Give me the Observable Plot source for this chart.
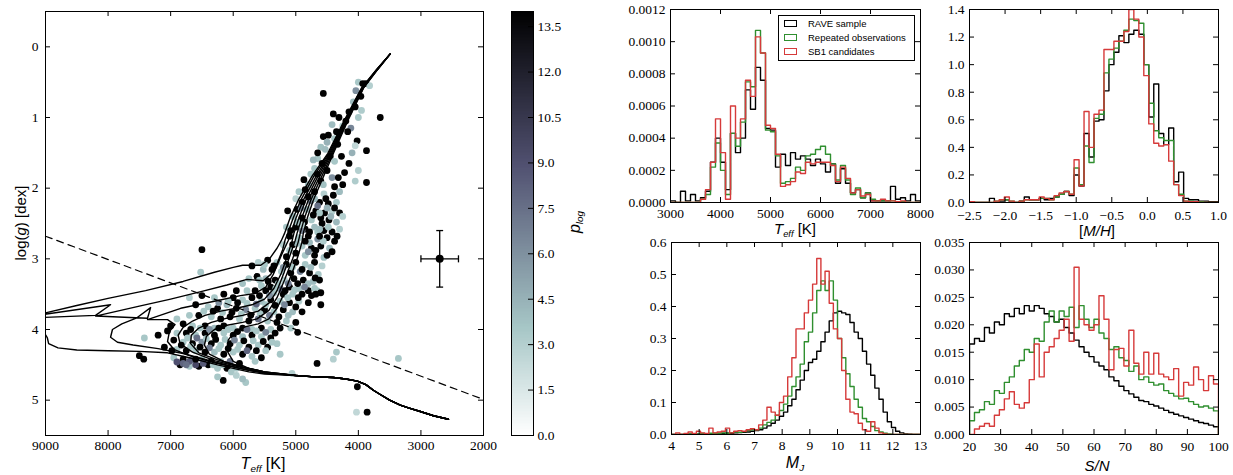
<!DOCTYPE html>
<html><head><meta charset="utf-8">
<script src="https://cdn.jsdelivr.net/npm/d3@7"></script>
<script src="https://cdn.jsdelivr.net/npm/@observablehq/plot@0.6"></script>
<style>
body{margin:0;background:#fff;}
#wrap{position:relative;width:1233px;height:475px;overflow:hidden;background:#fff;}
#wrap svg{position:absolute;max-width:none;overflow:visible;background:transparent !important;}
#wrap svg text{font-family:"Liberation Serif","DejaVu Serif","Noto Serif",serif !important;}
.lbl{position:absolute;white-space:nowrap;font-family:"Liberation Sans",Arial,sans-serif;font-size:15px;color:#000;line-height:1;transform:translate(-50%,-50%);}
.rot{transform:translate(-50%,-50%) rotate(-90deg);}
.lbl sub{font-size:0.62em;vertical-align:-0.35em;}
#legend{position:absolute;left:778px;top:15px;width:135px;height:44px;border:1px solid #000;background:#fff;font-family:"Liberation Sans",Arial,sans-serif;font-size:9.5px;}
.lr{position:absolute;left:5px;height:12px;line-height:12px;white-space:nowrap;}
.sw{display:inline-block;width:11px;height:5px;border:1.4px solid;margin-right:11px;vertical-align:middle;position:relative;top:-1px;}
</style></head>
<body>
<div id="wrap">
</div>
<script>
// ---------------- DATA ----------------
// Left panel: stars [Teff, logg, p_log]
const stars = [
[4000,0.5,3.5],[3930,0.52,13.9],[3880,0.52,13.9],[3820,0.55,3],[4040,0.62,6],[3960,0.7,13.9],[4080,0.78,4],[4050,0.85,13.9],[3950,0.9,3.2],[4150,0.92,13.9],[4000,1.0,3.5],[3650,1.0,13.9],[4560,0.66,13.9],[4200,1.05,13.9],[4400,0.95,13.9],[4310,1.0,13.9],[4250,1.12,3],[4120,1.15,6.5],[4480,1.25,13.9],[4560,1.27,13.9],[4380,1.3,3.5],[4170,1.2,13.9],[4020,1.33,13.9],[4050,1.4,2.5],[4330,1.38,13.9],[4600,1.42,3.8],[4530,1.45,4],[3870,1.47,13.9],[4100,1.5,4.5],[4270,1.55,13.9],[4450,1.55,13.9],[4650,1.58,3.5],[4580,1.65,13.9],[4720,1.6,4.2],[4380,1.62,3.5],[4150,1.65,13.9],[4000,1.75,3],[4220,1.78,13.9],[4500,1.75,13.9],[4660,1.8,13.9],[4760,1.8,3.5],[4420,1.85,6],[4320,1.85,13.9],[4050,1.9,3.2],[3870,1.92,13.9],[4600,1.9,13.9],[4800,1.95,4],[4250,1.95,13.9],
[4950,2.05,3.5],[4850,2.02,13.9],[4700,2.05,13.9],[4550,2.08,3],[4400,2.1,13.9],[4300,2.05,4],[5000,2.15,2.8],[4900,2.2,13.9],[4760,2.18,6.5],[4620,2.2,13.9],[4480,2.22,13.9],[4350,2.2,3.5],[4980,2.3,13.9],[4820,2.3,4],[4680,2.32,13.9],[4540,2.35,13.9],[4420,2.33,3],[4300,2.35,13.9],[5050,2.4,3.8],[4900,2.42,13.9],[4750,2.45,3.5],[4600,2.42,13.9],[4470,2.45,13.9],[4350,2.48,4.2],[5130,2.32,13.9],[4650,2.25,7.5],[4500,2.28,4.5],[4800,2.12,13.9],[4250,2.4,3],[4580,2.5,13.9],
[5150,2.55,3.5],[5000,2.55,13.9],[4850,2.58,13.9],[4700,2.55,4],[4550,2.6,13.9],[4420,2.62,13.9],[4300,2.58,3],[5100,2.68,13.9],[4950,2.7,3.5],[4800,2.68,13.9],[4650,2.72,6],[4500,2.7,13.9],[4380,2.75,13.9],[5200,2.8,3],[5050,2.8,13.9],[4900,2.82,3.5],[4750,2.85,13.9],[4600,2.82,13.9],[4460,2.85,4],[5000,2.92,13.9],[4850,2.95,3.5],[4700,2.95,13.9],[4550,2.98,3.8],[4420,2.9,13.9],[5150,2.97,13.9],[4650,2.62,3.5],[4900,2.6,6.5],[4780,2.77,4.2],[4340,2.68,13.9],[6500,2.87,13.9],
[5600,3.05,3],[5450,3.02,13.9],[5300,3.05,3.5],[5150,3.08,13.9],[5000,3.05,13.9],[4850,3.08,3.5],[4700,3.05,13.9],[4580,3.1,3],[5700,3.1,13.9],[5520,3.15,4],[5380,3.15,13.9],[5230,3.18,3.5],[5080,3.2,13.9],[4930,3.18,6.5],[4780,3.2,13.9],[4640,3.22,3.5],[6520,3.19,3.5],[5620,3.25,13.9],[5480,3.28,4.2],[5330,3.3,13.9],[5180,3.3,3],[5030,3.28,13.9],[4880,3.3,13.9],[4720,3.32,4],[5550,3.38,3.5],[5400,3.4,13.9],[5250,3.42,8],[5100,3.4,13.9],[4950,3.42,3.5],[4800,3.45,13.9],[4660,3.45,3.5],[5650,3.45,13.9],[5350,3.48,4],[5200,3.5,13.9],[5050,3.5,3.5],[4900,3.5,13.9],[4750,3.52,13.9],[5850,3.35,3.8],[5950,3.45,13.9],[4690,3.27,13.9],
[6700,3.55,3],[6500,3.52,13.9],[6300,3.55,3.5],[6150,3.5,13.9],[6000,3.55,13.9],[5850,3.58,3.5],[5700,3.55,13.9],[5550,3.6,4],[5400,3.58,13.9],[5250,3.6,3.5],[5100,3.62,13.9],[4950,3.6,3],[4800,3.62,13.9],[6600,3.65,13.9],[6400,3.68,3.5],[6250,3.7,13.9],[6100,3.65,4.2],[5950,3.7,13.9],[5800,3.72,6.5],[5650,3.7,3.5],[5500,3.72,13.9],[5350,3.75,3.5],[5200,3.72,13.9],[5050,3.75,4],[4900,3.75,13.9],[6700,3.8,3.5],[6550,3.8,13.9],[6350,3.82,3.5],[6200,3.85,13.9],[6050,3.82,13.9],[5900,3.85,3.5],[5750,3.88,13.9],[5600,3.85,7.5],[5450,3.88,3.5],[5300,3.9,13.9],[5150,3.88,3.5],[5000,3.9,13.9],[6800,3.92,13.9],[6650,3.95,3.5],[6450,3.95,13.9],[6300,3.98,4],[6150,3.95,13.9],[6000,3.98,3.5],[5850,3.98,13.9],[5700,4.0,3.5],[5550,3.98,13.9],[5400,4.0,3.5],[5250,3.98,13.9],[7000,3.95,13.9],[6900,3.85,3.5],
[7050,4.02,13.9],[6900,4.05,3.5],[6750,4.05,13.9],[6600,4.08,3.5],[6450,4.05,13.9],[6300,4.08,13.9],[6150,4.05,3.5],[6000,4.08,13.9],[5850,4.1,4],[5700,4.08,13.9],[5550,4.1,3.5],[5400,4.12,13.9],[4970,4.04,13.9],[7200,4.08,13.9],[7420,4.12,3.5],[6950,4.15,13.9],[6800,4.18,3.5],[6650,4.2,13.9],[6500,4.18,6],[6350,4.2,13.9],[6200,4.22,3.5],[6050,4.2,13.9],[5900,4.22,3.5],[5750,4.25,13.9],[5600,4.22,3.5],[5450,4.25,13.9],[5300,4.2,3.5],[7100,4.25,13.9],[6900,4.28,3.5],[6750,4.3,13.9],[6600,4.3,3.5],[6450,4.32,13.9],[6300,4.32,4],[6150,4.35,13.9],[6000,4.32,3.5],[5850,4.35,13.9],[5700,4.38,3.5],[5550,4.4,13.9],[6950,4.4,3.5],[6800,4.42,13.9],[6650,4.43,6],[6500,4.42,3.5],[6350,4.45,13.9],[6200,4.45,3.5],[6050,4.45,7.5],[5900,4.48,13.9],[7430,4.42,13.9],[7500,4.37,13.9],[4660,4.48,13.9],[4350,4.32,3.5],
[6850,4.5,13.9],[6700,4.52,3.5],[6550,4.52,13.9],[6400,4.5,13.9],[6250,4.55,3.5],[6100,4.55,13.9],[5950,4.55,3.5],[6700,4.45,8.5],[6600,4.5,9.5],[6800,4.48,8],[6160,4.72,13.9],[6250,4.67,3.5],[5800,4.75,3.5],[5850,4.7,4],[4016,4.81,13.9],[3860,5.17,13.9],[4030,5.17,2.5],[3360,4.41,3.5],[4400,4.42,3],[5060,4.62,3],
[4420,1.1,4],[4350,1.2,13.9],[4500,1.35,4.5],[4650,1.5,13.9],[4700,1.72,3.5],[4560,1.95,3.8],[4380,1.98,13.9],[4870,1.88,13.9],[4700,2.15,4],[4520,2.15,13.9],[4920,2.28,6],[4380,2.28,13.9],[4620,2.35,3.5],[4860,2.48,13.9],[4720,2.38,13.9],[4440,2.4,4.5],[4980,2.48,3.8],[4620,2.58,4],[4780,2.62,13.9],[4480,2.55,3.5],[5080,2.6,13.9],[4560,2.75,3.2],[4850,2.75,13.9],[4980,2.78,4],[4680,2.88,13.9],[4800,2.9,6],[5100,2.88,3.5],[4500,2.95,13.9],[4620,2.68,13.9],[4900,2.52,3],
[4760,3.12,4],[4900,3.15,13.9],[5050,3.12,3.5],[5200,3.12,6],[5350,3.1,13.9],[5500,3.08,3.5],[4620,3.3,13.9],[4800,3.35,4],[4970,3.35,13.9],[5120,3.35,7],[5280,3.35,3.5],[5440,3.32,13.9],[5580,3.3,3.8],[5750,3.28,3.5],[4700,3.42,3.5],[4860,3.4,6.5],[5020,3.44,3.5],[5170,3.45,13.9],[5320,3.42,3.5],[5480,3.45,13.9],[5780,3.45,3.5],[4600,3.48,13.9],[5420,3.52,6],[5580,3.52,13.9],[5130,3.55,3.5],[4960,3.55,13.9],[4600,3.65,13.9],[4680,3.5,13.9],
[5180,3.65,6.5],[5330,3.66,13.9],[5480,3.65,3.5],[5630,3.64,8],[5780,3.63,3.5],[5930,3.62,13.9],[6080,3.6,3.5],[6230,3.62,6],[5000,3.68,13.9],[5120,3.8,4],[5270,3.82,13.9],[5420,3.8,7],[5570,3.78,3.5],[5720,3.8,13.9],[5870,3.78,3.5],[6020,3.76,13.9],[6170,3.76,3.5],[6320,3.74,13.9],[6470,3.74,3.5],[5080,3.98,3.5],[5330,4.05,13.9],[5480,4.04,6.5],[5630,4.02,3.5],[5780,4.0,7.5],[5930,4.03,13.9],[6080,4.0,3.5],[6230,3.98,13.9],[6380,4.0,6],[6530,3.98,3.5],[6680,4.0,13.9],[5380,4.18,3.5],[5520,4.17,13.9],[5680,4.16,3.5],[5830,4.16,13.9],[5980,4.15,6.5],[6130,4.14,3.5],[6280,4.14,13.9],[6430,4.13,3.5],[6580,4.12,7.5],[6730,4.12,3.5],[5480,4.3,3.5],[5630,4.3,13.9],[5780,4.3,8],[5930,4.28,3.5],[6080,4.27,13.9],[6230,4.27,3.5],[6380,4.26,7],[6530,4.25,13.9],[6680,4.24,3.5],[6830,4.22,13.9],[6980,4.3,13.9],[6480,4.48,8.5],[6600,4.42,13.9],[6900,4.46,9],[6750,4.5,7.5],[6320,4.5,3.5],[6170,4.5,3.5],[5650,4.45,3.5],[6030,4.6,3.5],[5950,4.65,3],[5250,4.35,3.5]
];

// Isochrones: shared cool main sequence, then hot part per isochrone, then red giant branch
const msLower = [[2560,5.27],[2800,5.22],[3010,5.16],[3200,5.11],[3330,5.07],[3500,5.0],[3650,4.92],[3760,4.86],[3880,4.78],[4016,4.73],[4200,4.70],[4400,4.68],[4700,4.67],[5000,4.65]];
const isoLower = [
 [[5500,4.63],[5750,4.6],[6250,4.5],[6700,4.4],[7050,4.33],[7500,4.31],[8000,4.3],[8500,4.29],[8800,4.26],[8950,4.2],[8970,4.12],[9050,4.0],[9250,3.9],[9050,3.79],[7960,3.65],[8200,3.80],[9050,3.83],[9300,3.84],[9300,3.79],[9000,3.765],[8500,3.66],[8000,3.56],[7400,3.45],[6800,3.32],[6300,3.19],[6000,3.12],[5850,3.09],[5560,3.09],[5420,3.0],[5300,2.85],[5230,2.74]],
 [[5500,4.62],[5800,4.57],[6300,4.46],[6800,4.34],[7200,4.27],[7600,4.22],[7850,4.18],[7960,4.11],[7930,4.0],[7780,3.92],[7550,3.84],[7320,3.69],[7370,3.84],[8200,3.81],[7500,3.67],[7000,3.57],[6500,3.46],[6100,3.37],[5780,3.29],[5520,3.31],[5400,3.22],[5290,3.05],[5210,2.87],[5170,2.73]],
 [[5500,4.61],[5900,4.55],[6300,4.47],[6700,4.37],[6950,4.28],[7050,4.17],[7020,4.03],[6930,3.93],[7050,3.86],[7370,3.86],[6840,3.70],[6300,3.6],[5885,3.52],[5650,3.49],[5480,3.4],[5360,3.22],[5230,2.95],[5120,2.74]],
 [[5500,4.6],[5900,4.53],[6300,4.44],[6650,4.32],[6850,4.2],[6880,4.08],[6800,3.97],[6650,3.88],[6450,3.8],[6200,3.74],[5950,3.7],[5700,3.65],[5500,3.57],[5350,3.42],[5230,3.2],[5130,2.95],[5060,2.75]],
 [[5500,4.6],[5900,4.52],[6250,4.43],[6550,4.33],[6680,4.2],[6670,4.08],[6550,3.98],[6350,3.9],[6100,3.84],[5850,3.8],[5600,3.74],[5420,3.62],[5300,3.45],[5190,3.2],[5080,2.92],[5010,2.74]],
 [[5500,4.6],[5850,4.53],[6150,4.45],[6380,4.35],[6460,4.22],[6430,4.1],[6300,4.0],[6100,3.94],[5850,3.9],[5620,3.85],[5430,3.73],[5300,3.55],[5180,3.3],[5050,3.0],[4960,2.76]],
 [[5400,4.62],[5750,4.55],[6000,4.45],[6100,4.3],[6080,4.15],[5980,4.03],[5800,3.96],[5600,3.92],[5430,3.85],[5300,3.7],[5180,3.48],[5060,3.2],[4960,2.95],[4900,2.76]]
];
const isoRGB = [
 [[5180,2.64],[5090,2.42],[4960,2.17],[4740,1.83],[4490,1.51],[4230,1.05],[3948,0.58],[3708,0.32],[3490,0.1]],
 [[5130,2.64],[5040,2.42],[4920,2.17],[4710,1.83],[4475,1.51],[4220,1.05],[3943,0.58],[3705,0.32],[3490,0.1]],
 [[5080,2.64],[4995,2.42],[4880,2.17],[4680,1.84],[4460,1.51],[4210,1.05],[3938,0.58],[3702,0.32],[3490,0.1]],
 [[5030,2.64],[4950,2.42],[4840,2.17],[4650,1.84],[4445,1.51],[4200,1.05],[3932,0.58],[3700,0.32],[3490,0.1]],
 [[4980,2.64],[4905,2.42],[4800,2.17],[4620,1.84],[4430,1.51],[4190,1.05],[3926,0.58],[3697,0.32],[3490,0.1]],
 [[4930,2.64],[4860,2.42],[4760,2.17],[4590,1.84],[4415,1.51],[4180,1.05],[3920,0.58],[3694,0.32],[3490,0.1]],
 [[4880,2.64],[4815,2.42],[4720,2.17],[4560,1.84],[4400,1.51],[4170,1.05],[3914,0.58],[3690,0.32],[3490,0.1]]
];
const cutLine = [[9000,2.68],[2000,4.99]];
const errBar = [{teff:2700, logg:3.0, dTeff:300, dLogg:0.4}];
const hrTeffTicks = [9000,8000,7000,6000,5000,4000,3000,2000];
const hrLoggTicks = [0,1,2,3,4,5];
const plogTicks = [0,1.5,3,4.5,6,7.5,9,10.5,12,13.5];

// Histograms
const seriesNames = ["RAVE sample","Repeated observations","SB1 candidates"];
const seriesColors = ["#000000","#2f8f2f","#d63a3a"];

const teffStart = 3000, teffWidth = 100;
const teffRave = [0.00001,0,0.00007,0.00001,0.00005,0.00001,0.00003,0.00007,0.00025,0.00040,0.00025,0.00008,0.00043,0.00031,0.00040,0.00070,0.00058,0.00084,0.00076,0.00046,0.00045,0.00022,0.00030,0.00023,0.00031,0.00027,0.00029,0.00027,0.00023,0.00027,0.00024,0.00019,0.00024,0.00012,0.00021,0.00012,0.00006,0.00008,0.00003,0.00006,0.00001,0.00001,0.00001,0.00001,0.00010,0.00002,0.00003,0.00001,0.00005,0.00001];
const teffRep = [0,0,0,0,0,0,0.00002,0.00005,0.00022,0.00037,0.00020,0.00005,0.00043,0.00035,0.00050,0.00075,0.00072,0.00107,0.00093,0.00045,0.00044,0.00029,0.00012,0.00013,0.00015,0.00022,0.00020,0.00029,0.00030,0.00033,0.00035,0.00030,0.00024,0.00014,0.00023,0.00014,0.00005,0.00009,0.00003,0.00006,0.00002,0.00001,0.00001,0.00001,0.00001,0.000005,0.000005,0,0,0];
const teffSB1 = [0,0,0,0,0,0,0.00002,0.00008,0.00025,0.00052,0.00031,0.00002,0.00060,0.00040,0.00052,0.00076,0.00066,0.00103,0.00093,0.00048,0.00046,0.00030,0.00010,0.00011,0.00013,0.00019,0.00018,0.00025,0.00024,0.00025,0.00025,0.00025,0.00023,0.00013,0.00022,0.00015,0.00006,0.00008,0.00004,0.00005,0.00001,0.00001,0.00002,0.00001,0.00001,0.000005,0.00001,0,0,0];
const teffTicks = [3000,4000,5000,6000,7000,8000];
const densTicks = [0,0.0002,0.0004,0.0006,0.0008,0.0010,0.0012];

const mhStart = -2.5, mhWidth = 0.07;
const mhRave = [0.005,0,0,0,0.03,0,0.01,0.02,0,0,0.01,0.04,0.02,0.02,0.03,0.02,0.03,0.04,0.06,0.08,0.05,0.20,0.12,0.50,0.33,0.59,0.60,0.81,1.00,1.09,1.21,1.16,1.22,1.25,1.22,1.00,0.62,0.86,0.50,0.42,0.54,0.15,0.22,0.03,0.02,0.02,0.01,0.01,0.005,0.005];
const mhRep = [0.005,0,0,0,0,0.01,0.02,0.02,0.01,0,0.01,0.02,0.02,0.02,0.03,0.03,0.02,0.04,0.06,0.08,0.06,0.25,0.13,0.41,0.29,0.61,0.64,0.94,1.04,1.12,1.17,1.25,1.33,1.32,1.30,1.00,0.72,0.52,0.47,0.45,0.45,0.13,0.06,0.01,0.01,0.005,0.005,0,0,0];
const mhSB1 = [0.005,0,0,0,0,0.01,0.02,0.04,0.01,0,0.01,0.02,0.02,0.02,0.04,0.03,0.02,0.05,0.07,0.08,0.06,0.31,0.12,0.66,0.40,0.64,0.67,1.11,1.11,1.17,1.17,1.24,1.40,1.33,1.20,0.92,0.57,0.43,0.41,0.42,0.30,0.13,0.05,0.01,0.005,0.005,0,0,0,0];
const mhTicks = [-2.5,-2.0,-1.5,-1.0,-0.5,0.0,0.5,1.0];
const mhYTicks = [0,0.2,0.4,0.6,0.8,1.0,1.2,1.4];

const mjStart = 4, mjWidth = 0.15;
const mjRave = [0,0,0,0,0.001,0.001,0.001,0.002,0.002,0.002,0.003,0.003,0.003,0.004,0.004,0.005,0.006,0.007,0.008,0.010,0.012,0.015,0.020,0.027,0.035,0.045,0.057,0.070,0.090,0.110,0.140,0.170,0.200,0.225,0.235,0.260,0.290,0.320,0.355,0.380,0.385,0.380,0.375,0.350,0.320,0.300,0.260,0.220,0.185,0.145,0.110,0.070,0.040,0.022,0.010,0.005,0.002,0.001,0,0];
const mjRep = [0,0,0,0,0.002,0,0.002,0.003,0.002,0.004,0.003,0.004,0.005,0.004,0.006,0.008,0.007,0.009,0.012,0.015,0.015,0.020,0.030,0.038,0.045,0.060,0.075,0.095,0.120,0.150,0.180,0.220,0.290,0.320,0.380,0.450,0.480,0.450,0.480,0.420,0.300,0.240,0.190,0.150,0.110,0.085,0.050,0.040,0.025,0.012,0.008,0.004,0.002,0,0,0,0,0,0,0];
const mjSB1 = [0,0.005,0,0.003,0.008,0.003,0.010,0.005,0.003,0.020,0.005,0.008,0.010,0.020,0.005,0.010,0.012,0.010,0.015,0.018,0.015,0.030,0.045,0.085,0.070,0.060,0.100,0.120,0.180,0.240,0.330,0.330,0.380,0.420,0.470,0.550,0.470,0.510,0.410,0.330,0.300,0.200,0.110,0.070,0.065,0.035,0.015,0.010,0.040,0.020,0.005,0.002,0,0,0,0,0,0,0,0];
const mjTicks = [4,5,6,7,8,9,10,11,12,13];
const mjYTicks = [0,0.1,0.2,0.3,0.4,0.5,0.6];

const snStart = 20, snWidth = 1.6;
const snRave = [0.0165,0.0175,0.0170,0.0195,0.0185,0.0205,0.0200,0.0220,0.0215,0.0230,0.0220,0.0235,0.0225,0.0235,0.0230,0.0220,0.0215,0.0205,0.0210,0.0195,0.0185,0.0172,0.0160,0.0150,0.0142,0.0132,0.0125,0.0118,0.0105,0.0098,0.0088,0.0080,0.0074,0.0068,0.0062,0.0060,0.0055,0.0052,0.0048,0.0044,0.0040,0.0037,0.0034,0.0031,0.0028,0.0025,0.0022,0.0020,0.0017,0.0014];
const snRep = [0.0025,0.0040,0.0045,0.0060,0.0055,0.0080,0.0075,0.0095,0.0105,0.0125,0.0135,0.0155,0.0150,0.0175,0.0170,0.0205,0.0225,0.0205,0.0225,0.0215,0.0232,0.0195,0.0235,0.0210,0.0195,0.0210,0.0185,0.0175,0.0155,0.0160,0.0140,0.0135,0.0115,0.0125,0.0100,0.0105,0.0095,0.0090,0.0092,0.0080,0.0075,0.0070,0.0065,0.0066,0.0060,0.0055,0.0050,0.0052,0.0048,0.0043];
const snSB1 = [0.0000,0.0010,0.0015,0.0020,0.0015,0.0035,0.0045,0.0065,0.0078,0.0055,0.0048,0.0058,0.0100,0.0165,0.0105,0.0150,0.0160,0.0175,0.0190,0.0210,0.0170,0.0305,0.0210,0.0200,0.0190,0.0200,0.0253,0.0210,0.0118,0.0155,0.0157,0.0125,0.0190,0.0130,0.0110,0.0150,0.0110,0.0148,0.0110,0.0105,0.0100,0.0120,0.0070,0.0095,0.0090,0.0123,0.0100,0.0080,0.0107,0.0092];
const snTicks = [20,30,40,50,60,70,80,90,100];
const snYTicks = [0,0.005,0.010,0.015,0.020,0.025,0.030,0.035];

// ---------------- DRAWING ----------------
const wrap = document.getElementById("wrap");
const plogColor = {type:"linear", domain:[0,3.56,8.89,14], range:["#ffffff","#a6c6c6","#515171","#000000"], clamp:true};
const serif = "'Liberation Serif', 'DejaVu Serif', serif";
const baseStyle = "font-family:'Liberation Serif','DejaVu Serif',serif;font-size:13.5px;background:transparent;overflow:visible;";

function place(svg, left, top){ svg.style.position="absolute"; svg.style.left=left+"px"; svg.style.top=top+"px"; wrap.appendChild(svg); }

function frameMarks(W, H, xt, yt, xf, yf, xpad, ypad){
  return [
    Plot.frame({stroke:"#000", strokeWidth:1}),
    Plot.tickX(xt, {x:d=>d, insetTop:H-5, stroke:"#000"}),
    Plot.tickX(xt, {x:d=>d, insetBottom:H-5, stroke:"#000"}),
    Plot.tickY(yt, {y:d=>d, insetRight:W-5, stroke:"#000"}),
    Plot.tickY(yt, {y:d=>d, insetLeft:W-5, stroke:"#000"}),
    Plot.axisX(xt, {tickSize:0, tickPadding:xpad, tickFormat:xf, label:null, fontSize:13.5, fontFamily:serif, fill:"#000"}),
    Plot.axisY(yt, {tickSize:0, tickPadding:ypad, tickFormat:yf, label:null, fontSize:13.5, fontFamily:serif, fill:"#000"})
  ];
}

// Left HR diagram
{
  const width=500, height=475, ml=45, mr=17, mt=11, mb=40;
  const W=width-ml-mr, H=height-mt-mb;
  const isoLines = isoLower.map((low,k)=> msLower.concat(low, isoRGB[k]));
  const svg = Plot.plot({
    width, height, marginLeft:ml, marginRight:mr, marginTop:mt, marginBottom:mb,
    style: baseStyle,
    x:{domain:[9000,2000]}, y:{domain:[-0.5,5.5], reverse:true},
    color: plogColor,
    marks:[
      Plot.dot(stars, {x:d=>d[0], y:d=>d[1], fill:d=>d[2], r:3.4, clip:true}),
      ...isoLines.map(pts=>Plot.line(pts, {x:d=>d[0], y:d=>d[1], stroke:"#000", strokeWidth:1.4, clip:true})),
      Plot.line(cutLine, {x:d=>d[0], y:d=>d[1], stroke:"#000", strokeWidth:1.2, strokeDasharray:"7,5"}),
      Plot.link(errBar, {x1:d=>d.teff-d.dTeff, x2:d=>d.teff+d.dTeff, y1:d=>d.logg, y2:d=>d.logg, stroke:"#000", strokeWidth:1.3}),
      Plot.link(errBar, {x1:d=>d.teff, x2:d=>d.teff, y1:d=>d.logg-d.dLogg, y2:d=>d.logg+d.dLogg, stroke:"#000", strokeWidth:1.3}),
      Plot.link(errBar, {x1:d=>d.teff-d.dTeff, x2:d=>d.teff-d.dTeff, y1:d=>d.logg-0.05, y2:d=>d.logg+0.05, stroke:"#000", strokeWidth:1.3}),
      Plot.link(errBar, {x1:d=>d.teff+d.dTeff, x2:d=>d.teff+d.dTeff, y1:d=>d.logg-0.05, y2:d=>d.logg+0.05, stroke:"#000", strokeWidth:1.3}),
      Plot.link(errBar, {x1:d=>d.teff-55, x2:d=>d.teff+55, y1:d=>d.logg-d.dLogg, y2:d=>d.logg-d.dLogg, stroke:"#000", strokeWidth:1.3}),
      Plot.link(errBar, {x1:d=>d.teff-55, x2:d=>d.teff+55, y1:d=>d.logg+d.dLogg, y2:d=>d.logg+d.dLogg, stroke:"#000", strokeWidth:1.3}),
      Plot.dot(errBar, {x:"teff", y:"logg", r:4, fill:"#000"}),
      ...frameMarks(W, H, hrTeffTicks, hrLoggTicks, d3.format("d"), d3.format("d"), 5, 7)
    ]
  });
  place(svg, 0, 0);
}

// Colorbar
{
  const width=120, height=475, ml=45, mr=53, mt=11, mb=40;
  const W=width-ml-mr;
  const stops = d3.range(0, 14, 0.05);
  const svg = Plot.plot({
    width, height, marginLeft:ml, marginRight:mr, marginTop:mt, marginBottom:mb,
    style: baseStyle,
    y:{domain:[0,14]}, color: plogColor,
    marks:[
      Plot.rect(stops, {y1:d=>d, y2:d=>Math.min(14, d+0.1), fill:d=>d+0.025, inset:0, shapeRendering:"crispEdges"}),
      Plot.frame({stroke:"#000"}),
      Plot.tickY(plogTicks, {y:d=>d, insetLeft:W-5, stroke:"#000"}),
      Plot.axisY(plogTicks, {anchor:"right", tickSize:0, tickPadding:4, tickFormat:d3.format(".1f"), label:null, fontSize:13.5, fontFamily:serif, fill:"#000"})
    ]
  });
  place(svg, 466, 0);
}

function stepPoints(start, width, vals){
  const pts=[[start,0]];
  vals.forEach((v,i)=>{ pts.push([start+i*width, v],[start+(i+1)*width, v]); });
  pts.push([start+vals.length*width, 0]);
  return pts;
}
function histPanel({left, top, width, height, ml, mr, mt, mb, xDomain, yDomain, start, binW, series, xt, yt, xf, yf, xpad=6}){
  const W=width-ml-mr, H=height-mt-mb;
  const svg = Plot.plot({
    width, height, marginLeft:ml, marginRight:mr, marginTop:mt, marginBottom:mb,
    style: baseStyle,
    x:{domain:xDomain}, y:{domain:yDomain},
    marks:[
      ...series.map((vals,i)=>Plot.line(stepPoints(start, binW, vals), {x:d=>d[0], y:d=>d[1], stroke:seriesColors[i], strokeWidth:1.4, clip:true})),
      ...frameMarks(W, H, xt, yt, xf, yf, xpad, 5)
    ]
  });
  place(svg, left, top);
}

histPanel({left:600, top:0, width:330, height:240, ml:70, mr:10, mt:9, mb:38, xDomain:[3000,8000], yDomain:[0,0.0012],
  start:teffStart, binW:teffWidth, series:[teffRave,teffRep,teffSB1], xt:teffTicks, yt:densTicks, xf:d3.format("d"), yf:d3.format(".4f")});
histPanel({left:910, top:0, width:320, height:240, ml:59, mr:12, mt:9, mb:38, xDomain:[-2.5,1.0], yDomain:[0,1.4],
  start:mhStart, binW:mhWidth, series:[mhRave,mhRep,mhSB1], xt:mhTicks, yt:mhYTicks, xf:d3.format(".1f"), yf:d3.format(".1f"), xpad:8});
histPanel({left:600, top:200, width:330, height:275, ml:71, mr:10, mt:42, mb:41, xDomain:[4,13], yDomain:[0,0.6],
  start:mjStart, binW:mjWidth, series:[mjRave,mjRep,mjSB1], xt:mjTicks, yt:mjYTicks, xf:d3.format("d"), yf:d3.format(".1f")});
histPanel({left:910, top:200, width:320, height:275, ml:59, mr:12, mt:42, mb:41, xDomain:[20,100], yDomain:[0,0.035],
  start:snStart, binW:snWidth, series:[snRave,snRep,snSB1], xt:snTicks, yt:snYTicks, xf:d3.format("d"), yf:d3.format(".3f"), xpad:7});

// Text labels (HTML)
const labels = [
  {x:263, y:465, html:'<i>T</i><sub><i>eff</i></sub> [K]', size:16, rot:false},
  {x:20, y:223, html:'log(<i>g</i>) [dex]', size:15, rot:true},
  {x:576, y:222, html:'<i>p</i><sub><i>log</i></sub>', size:16, rot:true},
  {x:795, y:230, html:'<i>T</i><sub><i>eff</i></sub> [K]', size:15, rot:false},
  {x:1097, y:230, html:'[<i>M/H</i>]', size:15, rot:false},
  {x:795, y:464, html:'<i>M</i><sub><i>J</i></sub>', size:16, rot:false},
  {x:1097, y:465, html:'<i>S/N</i>', size:15, rot:false}
];
labels.forEach(l=>{
  const d=document.createElement("div");
  d.className="lbl"+(l.rot?" rot":"");
  d.style.left=l.x+"px"; d.style.top=l.y+"px"; d.style.fontSize=l.size+"px";
  d.innerHTML=l.html; wrap.appendChild(d);
});

// Legend
const leg=document.createElement("div"); leg.id="legend";
seriesNames.forEach((n,i)=>{
  const r=document.createElement("div"); r.className="lr"; r.style.top=(2+i*14)+"px";
  r.innerHTML='<span class="sw" style="border-color:'+seriesColors[i]+'"></span>'+n;
  leg.appendChild(r);
});
wrap.appendChild(leg);
</script>
</body></html>
